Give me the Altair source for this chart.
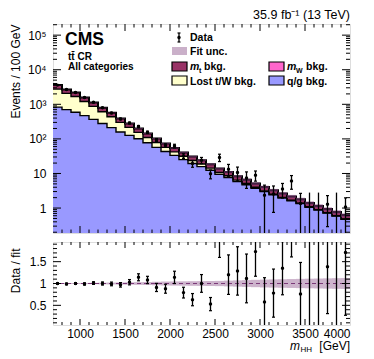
import altair as alt
import pandas as pd

FONT = "Liberation Sans, Arial, Helvetica, sans-serif"

# ---------------- data ----------------
bin_lo = [700, 800, 900, 1000, 1100, 1200, 1300, 1400, 1500, 1600, 1700,
          1800, 1900, 2000, 2100, 2200, 2300, 2400, 2500, 2600, 2700, 2800,
          2900, 3000, 3100, 3200, 3300, 3400, 3500, 3600, 3700, 3800, 3900]
qg = [831, 700, 590, 470, 366, 280, 212, 158, 126, 101, 77, 57, 43.4, 33.4,
      25.2, 19.5, 15.8, 12.4, 9.4, 7.66, 5.83, 4.74, 3.73, 2.98, 2.43, 1.96,
      1.63, 1.36, 1.06, 0.88, 0.715, 0.585, 0.473]
lost = [1920, 1370, 1100, 740, 504, 327, 223, 142, 89, 53, 33, 22, 13.3, 8.7,
        6.2, 4.3, 2.9, 1.9, 1.3, 0.92, 0.61, 0.39, 0.25, 0.16, 0.10, 0.07,
        0.06, 0.03, 0.03, 0.02, 0.015, 0.012, 0.01]
mw = [9, 7, 6, 4, 3, 2, 1.5, 1, 0.8, 0.6, 0.4, 0.3, 0.2, 0.15, 0.1, 0.08,
      0.06, 0.05, 0.04, 0.03, 0.02, 0.02, 0.015, 0.01, 0.01, 0.008, 0.006,
      0.005, 0.004, 0.003, 0.003, 0.002, 0.002]
mt = [830, 620, 510, 365, 262, 183, 131, 89, 64, 45, 33, 23, 16.5, 12.3, 9.2,
      6.9, 5.4, 4.2, 3.1, 2.45, 1.85, 1.48, 1.15, 0.91, 0.73, 0.59, 0.48, 0.4,
      0.31, 0.25, 0.2, 0.17, 0.14]
unc = [0.010, 0.011, 0.012, 0.013, 0.015, 0.018, 0.021, 0.024, 0.027, 0.031,
       0.035, 0.040, 0.045, 0.048, 0.050, 0.053, 0.055, 0.057, 0.060, 0.066,
       0.072, 0.078, 0.084, 0.090, 0.094, 0.098, 0.102, 0.106, 0.110, 0.114,
       0.118, 0.122, 0.125]
data = [3590, 2670, 2206, 1563, 1146, 792, 562, 378, 288, 228, 155, 93, 64.6,
        62.2, 32.2, 19.4, 24.2, 9.8, 29.1, 13.3, 10.7, 7.4, 8.9, 2.35, 2.55,
        3.55, 6.1, 1.36, 0, 0, 1.29, 0, 1.07]
data_lo = [3530, 2618, 2159, 1523, 1112, 764, 538, 358, 271, 212, 143, 83.5,
           57.1, 54.5, 27.2, 15.1, 19.3, 7.0, 22.1, 8.3, 6.1, 3.7, 6.0, 0.10,
           0.75, 1.95, 3.5, 0.06, 0, 0, 0.29, 0, 0.17]
data_hi = [3650, 2722, 2253, 1603, 1180, 820, 586, 398, 305, 244, 167, 102.5,
           72.1, 69.9, 37.2, 23.7, 29.1, 12.6, 36.1, 18.3, 15.3, 11.1, 11.8,
           4.6, 4.35, 5.15, 8.7, 2.66, 2.8, 2.8, 2.29, 2.8, 1.97]

x_major = [1000, 1500, 2000, 2500, 3000, 3500]
x_labels = [1000, 1500, 2000, 2500, 3000, 3500, 4000]
y_major = [1, 10, 100, 1000, 10000, 100000]
r_major = [0.5, 1, 1.5]

# ---------------- layout / style ----------------
W, H1, H2 = 297, 209, 83
XDOM = [700, 4000]
YDOM = [0.19, 2.1e5]
RDOM = [0.05, 1.95]
C_QG, C_LOST, C_MT, C_MW = "#9999ff", "#ffffcc", "#993366", "#ff66cc"
C_UNC = "#7b3a78"

n = len(bin_lo)
tot = [qg[i] + lost[i] + mw[i] + mt[i] for i in range(n)]
qg_top = list(qg)
lost_top = [qg[i] + lost[i] for i in range(n)]
mw_top = [lost_top[i] + mw[i] for i in range(n)]

step = pd.DataFrame({
    "x": bin_lo + [XDOM[1]],
    "qg": qg_top + [qg_top[-1]],
    "lost": lost_top + [lost_top[-1]],
    "mw": mw_top + [mw_top[-1]],
    "tot": tot + [tot[-1]],
    "base": [YDOM[0]] * (n + 1),
})
bins = pd.DataFrame({
    "lo": bin_lo,
    "hi": [b + 100 for b in bin_lo],
    "xc": [b + 50 for b in bin_lo],
    "tot": tot,
    "up": [tot[i] * (1 + unc[i]) for i in range(n)],
    "dn": [tot[i] * (1 - unc[i]) for i in range(n)],
    "rup": [1 + u for u in unc],
    "rdn": [1 - u for u in unc],
    "d": data,
    "dlo": [max(v, 0.01) for v in data_lo],
    "dhi": data_hi,
    "r": [data[i] / tot[i] for i in range(n)],
    "rlo": [data_lo[i] / tot[i] for i in range(n)],
    "rhi": [data_hi[i] / tot[i] for i in range(n)],
})
pts = bins[bins["d"] > 0]
ONE = pd.DataFrame({"k": [0]})

xs = alt.Scale(domain=XDOM, nice=False, zero=False)
ys = alt.Scale(type="log", domain=YDOM, nice=False)
rs = alt.Scale(domain=RDOM, nice=False, zero=False)

sup = "datum.value==1?'1':datum.value==10?'10':datum.value==100?'10²':datum.value==1000?'10³':datum.value==10000?'10⁴':'10⁵'"
yax = alt.Axis(values=y_major, labelExpr=sup, title="Events / 100 GeV",
               titleAnchor="end", titleX=-31, titleFontSize=12,
               titleFontWeight="normal", titleFont=FONT, titleColor="black",
               labelFont=FONT, labelFontSize=12, labelColor="black",
               labelPadding=7, tickSize=0, domain=False, grid=False)
rax = alt.Axis(values=r_major, format="~g", title="Data / fit",
               titleAnchor="end", titleX=-31, titleY=6, titleFontSize=12,
               titleFontWeight="normal", titleFont=FONT, titleColor="black",
               labelFont=FONT, labelFontSize=12, labelColor="black",
               labelPadding=7, tickSize=0, domain=False, grid=False)
xax = alt.Axis(values=x_labels, format="d", title=None, labelFont=FONT,
               labelFontSize=12, labelColor="black", labelPadding=3,
               tickSize=0, domain=False, grid=False, labelOverlap=False)


def XT(f):
    return alt.X(f, type="quantitative", scale=xs, axis=None)


def XB(f):
    return alt.X(f, type="quantitative", scale=xs, axis=xax)


def YT(f):
    return alt.Y(f, type="quantitative", scale=ys, axis=yax, stack=None)


def YR(f):
    return alt.Y(f, type="quantitative", scale=rs, axis=rax, stack=None)


def txt(s, px, py, size, weight="bold", style="normal", align="left",
        baseline="alphabetic"):
    return alt.Chart(ONE).mark_text(
        text=s, font=FONT, fontSize=size, fontWeight=weight, fontStyle=style,
        align=align, baseline=baseline, color="black"
    ).encode(x=alt.value(px), y=alt.value(py))


def swatch(color, x0, x1, y0, y1, opacity=1.0):
    return alt.Chart(ONE).mark_rect(
        fill=color, fillOpacity=opacity, stroke="black", strokeWidth=1.2
    ).encode(x=alt.value(x0), x2=alt.value(x1), y=alt.value(y0), y2=alt.value(y1))


def yticks(vals, yenc, x0, x1):
    return alt.Chart(pd.DataFrame({"v": vals})).mark_rule(
        color="black", strokeWidth=1
    ).encode(y=yenc("v"), x=alt.value(x0), x2=alt.value(x1))


def xticks(vals, xenc, y0, y1):
    return alt.Chart(pd.DataFrame({"v": vals})).mark_rule(
        color="black", strokeWidth=1
    ).encode(x=xenc("v"), y=alt.value(y0), y2=alt.value(y1))


x_minor = [v for v in range(800, 4000, 100) if v % 500 != 0]
y_minor = [k * 10.0 ** e for e in range(-1, 6) for k in range(2, 10)
           if YDOM[0] <= k * 10.0 ** e <= YDOM[1]]
r_minor = [round(0.1 * k, 1) for k in range(1, 20) if k not in (5, 10, 15)]

# ---------------- top panel ----------------
top_layers = []
for col, color in [("tot", C_MT), ("mw", C_MW), ("lost", C_LOST), ("qg", C_QG)]:
    top_layers.append(
        alt.Chart(step).mark_area(interpolate="step-after", color=color,
                                  opacity=1, clip=True)
        .encode(x=XT("x"), y=YT(col), y2="base"))
for col, sw in [("qg", 1.4), ("lost", 1.4), ("tot", 2.0)]:
    top_layers.append(
        alt.Chart(step).mark_line(interpolate="step-after", color="black",
                                  strokeWidth=sw, clip=True)
        .encode(x=XT("x"), y=YT(col)))
top_layers.append(
    alt.Chart(bins).mark_rect(color=C_UNC, opacity=0.55, clip=True)
    .encode(x=XT("lo"), x2="hi", y=YT("up"), y2="dn"))
top_layers.append(
    alt.Chart(bins).mark_rule(color="black", strokeWidth=1.3, clip=True)
    .encode(x=XT("xc"), y=YT("dlo"), y2="dhi"))
for f in ["dlo", "dhi"]:
    top_layers.append(
        alt.Chart(pts).mark_tick(orient="horizontal", size=3, thickness=1.2,
                                 color="black", opacity=1, clip=True)
        .encode(x=XT("xc"), y=YT(f)))
top_layers.append(
    alt.Chart(pts).mark_point(filled=True, size=12, color="black", opacity=1, clip=True)
    .encode(x=XT("xc"), y=YT("d")))
# inside ticks
top_layers += [
    yticks(y_major, YT, 0, 8), yticks(y_minor, YT, 0, 4),
    yticks(y_major, YT, W, W - 8), yticks(y_minor, YT, W, W - 4),
    xticks(x_major, XT, H1, H1 - 7), xticks(x_minor, XT, H1, H1 - 3.5),
    xticks(x_major, XT, 0, 7), xticks(x_minor, XT, 0, 3.5),
]
# header and CMS labels
top_layers += [
    txt("35.9 fb\u207b\u00b9 (13 TeV)", W, -15, 12.5, weight="normal",
        align="right", baseline="top"),
    txt("CMS", 12, 21, 17.5),
    txt("tt\u0304 CR", 15, 36, 10),
    txt("All categories", 15, 46, 10),
]
# legend
lx, lx2 = 119, 216
top_layers += [
    alt.Chart(ONE).mark_rule(color="black", strokeWidth=1.3)
    .encode(x=alt.value(126), y=alt.value(9), y2=alt.value(18)),
    alt.Chart(ONE).mark_rule(color="black", strokeWidth=1.2)
    .encode(x=alt.value(124.5), x2=alt.value(127.5), y=alt.value(9)),
    alt.Chart(ONE).mark_rule(color="black", strokeWidth=1.2)
    .encode(x=alt.value(124.5), x2=alt.value(127.5), y=alt.value(18)),
    alt.Chart(ONE).mark_point(filled=True, size=12, color="black", opacity=1)
    .encode(x=alt.value(126), y=alt.value(13.5)),
    txt("Data", 137, 17, 10.5),
    alt.Chart(ONE).mark_rect(fill=C_UNC, fillOpacity=0.4)
    .encode(x=alt.value(lx), x2=alt.value(lx + 15), y=alt.value(23), y2=alt.value(31)),
    txt("Fit unc.", 137, 31, 10.5),
    swatch(C_MT, lx, lx + 15, 38, 47),
    txt("m", 137, 46, 10.5, style="italic"),
    txt("t", 146, 48.5, 7),
    txt("bkg.", 151, 46, 10.5),
    swatch(C_MW, lx2, lx2 + 15, 38, 47),
    txt("m", 234, 46, 10.5, style="italic"),
    txt("W", 243, 48.5, 7),
    txt("bkg.", 253, 46, 10.5),
    swatch(C_LOST, lx, lx + 15, 52, 61),
    txt("Lost t/W bkg.", 137, 60.5, 10.5),
    swatch(C_QG, lx2, lx2 + 15, 52, 61),
    txt("q/g bkg.", 234, 60.5, 10.5),
]
top = alt.layer(*top_layers).properties(width=W, height=H1)

# ---------------- ratio panel ----------------
bot_layers = [
    alt.Chart(bins).mark_rect(color=C_UNC, opacity=0.38, clip=True)
    .encode(x=XB("lo"), x2="hi", y=YR("rup"), y2="rdn"),
    alt.Chart(pd.DataFrame({"v": [1]})).mark_rule(color=C_UNC, strokeDash=[4, 3],
                                                  strokeWidth=1)
    .encode(y=YR("v"), x=alt.value(0), x2=alt.value(W)),
    alt.Chart(bins).mark_rule(color="black", strokeWidth=1.3, clip=True)
    .encode(x=XB("xc"), y=YR("rlo"), y2="rhi"),
]
for f in ["rlo", "rhi"]:
    bot_layers.append(
        alt.Chart(pts).mark_tick(orient="horizontal", size=3, thickness=1.2,
                                 color="black", opacity=1, clip=True)
        .encode(x=XB("xc"), y=YR(f)))
bot_layers += [
    alt.Chart(pts).mark_point(filled=True, size=12, color="black", opacity=1, clip=True)
    .encode(x=XB("xc"), y=YR("r")),
    yticks(r_major, YR, 0, 8), yticks(r_minor, YR, 0, 4),
    yticks(r_major, YR, W, W - 8), yticks(r_minor, YR, W, W - 4),
    xticks(x_major, XB, H2, H2 - 6), xticks(x_minor, XB, H2, H2 - 3),
    xticks(x_major, XB, 0, 6), xticks(x_minor, XB, 0, 3),
    txt("[GeV]", W, 108, 12, weight="normal", align="right"),
    txt("HH", 259, 110, 8, weight="normal", align="right"),
    txt("m", 247, 108, 12, weight="normal", style="italic", align="right"),
]
bot = alt.layer(*bot_layers).properties(width=W, height=H2)

chart = alt.vconcat(top, bot, spacing=7, padding=0).configure_view(
    stroke="black", strokeWidth=1.2
).configure(font=FONT, background="white")

chart.save("out.html", embed_options={"renderer": "svg", "actions": False})
